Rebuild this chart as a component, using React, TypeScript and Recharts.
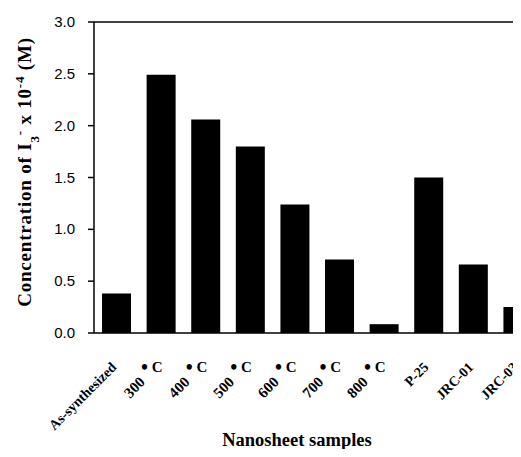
import React from 'react';
import { BarChart, Bar, XAxis, YAxis, ReferenceLine } from 'recharts';

const categories = ['As-synthesized', '300 °C', '400 °C', '500 °C', '600 °C', '700 °C', '800 °C', 'P-25', 'JRC-01', 'JRC-03'];
const concentrations = [0.38, 2.49, 2.06, 1.8, 1.24, 0.71, 0.085, 1.5, 0.66, 0.25];
const yTicks = [0, 0.5, 1.0, 1.5, 2.0, 2.5, 3.0];

const data = categories.map((name, i) => ({ name, value: concentrations[i] }));

const serif = '"Liberation Serif", "Times New Roman", serif';
const sans = '"Liberation Sans", Arial, sans-serif';

const XTick = (props: any) => {
  const { x, y, payload } = props;
  const label: string = payload.value;
  const m = label.match(/^(\d+)\s*°C$/);
  const style = { fontFamily: serif, fontWeight: 'bold' as const, fontSize: 14, fill: '#000' };
  if (m) {
    const ex = x - 15;
    const ey = y + 42;
    return (
      <g>
        <text x={x - 9} y={y + 31} textAnchor="middle" style={{ ...style, fontSize: 15 }}>
          <tspan fontSize={20} dy={2}>•</tspan><tspan dy={-2}> C</tspan>
        </text>
        <text x={ex} y={ey} textAnchor="end" transform={`rotate(-45, ${ex}, ${ey})`} style={{ ...style, fontSize: 15 }}>{m[1]}</text>
      </g>
    );
  }
  const ex = x + 1;
  const ey = y + 27;
  return (
    <text x={ex} y={ey} textAnchor="end" transform={`rotate(-45, ${ex}, ${ey})`} style={style}>{label}</text>
  );
};

const YTick = (props: any) => {
  const { x, y, payload } = props;
  return (
    <text x={x - 11} y={y} dy={5} textAnchor="end" style={{ fontFamily: sans, fontSize: 15, fill: '#000' }}>
      {Number(payload.value).toFixed(1)}
    </text>
  );
};

export default function App() {
  return (
    <div style={{ position: 'relative', margin: -8, width: 521, height: 457, overflow: 'hidden', background: '#fff' }}>
      <BarChart
        width={560}
        height={457}
        data={data}
        margin={{ top: 22, right: 20, left: 0, bottom: 0 }}
        barCategoryGap="18%"
      >
        <XAxis
          dataKey="name"
          interval={0}
          tickLine={false}
          axisLine={{ stroke: '#000', strokeWidth: 1.5 }}
          height={124}
          tick={<XTick />}
        />
        <YAxis
          width={94}
          domain={[0, 3]}
          ticks={yTicks}
          interval={0}
          tickSize={6}
          axisLine={{ stroke: '#000', strokeWidth: 1.5 }}
          tickLine={{ stroke: '#000', strokeWidth: 1.5 }}
          tick={<YTick />}
        />
        <ReferenceLine y={3} stroke="#000" strokeWidth={1.5} />
        <Bar dataKey="value" fill="#000" isAnimationActive={false} />
        <text x={31} y={172} textAnchor="middle" transform="rotate(-90, 31, 172)" style={{ fontFamily: serif, fontWeight: 'bold', fontSize: 19, letterSpacing: 0.8, fill: '#000' }}>
          Concentration of I<tspan baselineShift="sub" fontSize={13}>3</tspan><tspan baselineShift="super" fontSize={13}>-</tspan> x 10<tspan baselineShift="super" fontSize={13}>-4</tspan> (M)
        </text>
        <text x={297} y={446} textAnchor="middle" style={{ fontFamily: serif, fontWeight: 'bold', fontSize: 18.5, fill: '#000' }}>
          Nanosheet samples
        </text>
      </BarChart>
    </div>
  );
}
